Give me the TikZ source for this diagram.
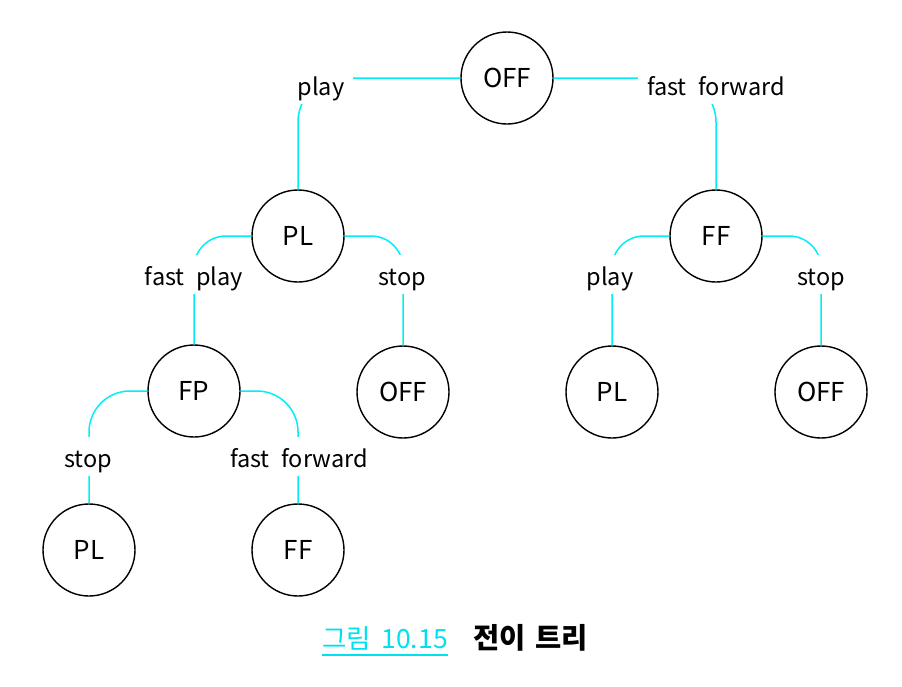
\documentclass[tikz,border=0pt]{standalone}
\usepackage{fontspec}
\setmainfont{Noto Sans CJK KR}
\definecolor{lcyan}{RGB}{0,238,245}
\definecolor{capcyan}{RGB}{0,225,240}
\begin{document}
\begin{tikzpicture}[x=1pt,y=-1pt,
  state/.style={circle,draw=black,line width=1.4pt,minimum size=92pt,inner sep=0pt,font=\fontsize{26}{30}\selectfont},
  lab/.style={fill=white,inner xsep=9pt,inner ysep=0pt,text height=30pt,text depth=9pt,anchor=base,font=\fontsize{23.5}{28}\selectfont},
  conn/.style={draw=lcyan,line width=1.5pt}]
\useasboundingbox (0,0) rectangle (902,686);
% states
\node[state] (off) at (507,78) {OFF};
\node[state] (pl) at (298,236) {PL};
\node[state] (ff) at (716,236) {FF};
\node[state] (fp) at (194,391) {FP};
\node[state] (off2) at (403,392) {OFF};
\node[state] (pl2) at (612,392) {PL};
\node[state] (off3) at (821,392) {OFF};
\node[state] (pl3) at (89,550) {PL};
\node[state] (ff3) at (298,550) {FF};
% connectors
\draw[conn,rounded corners=44pt] (off.west) -| (pl.north);
\draw[conn,rounded corners=44pt] (off.east) -| (ff.north);
\draw[conn,rounded corners=32pt] (pl.west) -| (fp.north);
\draw[conn,rounded corners=32pt] (pl.east) -| (off2.north);
\draw[conn,rounded corners=32pt] (ff.west) -| (pl2.north);
\draw[conn,rounded corners=32pt] (ff.east) -| (off3.north);
\draw[conn,rounded corners=41pt] (fp.west) -| (pl3.north);
\draw[conn,rounded corners=41pt] (fp.east) -| (ff3.north);
% labels
\node[lab] (lplay) at (321,95) {play};
\node[lab] (lff) at (716,95) {fast\hspace{.5em}forward};
\node[lab] (lfp) at (194,285) {fast\hspace{.5em}play};
\node[lab] (lstop) at (402,285) {stop};
\node[lab] (lplay2) at (610,285) {play};
\node[lab] (lstop2) at (821,285) {stop};
\node[lab] (lstop3) at (88,467) {stop};
\node[lab] (lff3) at (299,467) {fast\hspace{.5em}forward};
% caption
\node[font=\fontsize{26.5}{30}\selectfont,text=capcyan,anchor=base west,inner sep=0pt] (fig) at (322,648) {그림\hspace{.4em}10.15};
\draw[capcyan,line width=1.3pt] ([yshift=-7pt]fig.base west) -- ([yshift=-7pt]fig.base east);
\node[font=\fontsize{28.5}{32}\selectfont\bfseries,anchor=base west,inner sep=0pt] (cap) at (473,648) {전이\hspace{.35em}트리};
\end{tikzpicture}
\end{document}
